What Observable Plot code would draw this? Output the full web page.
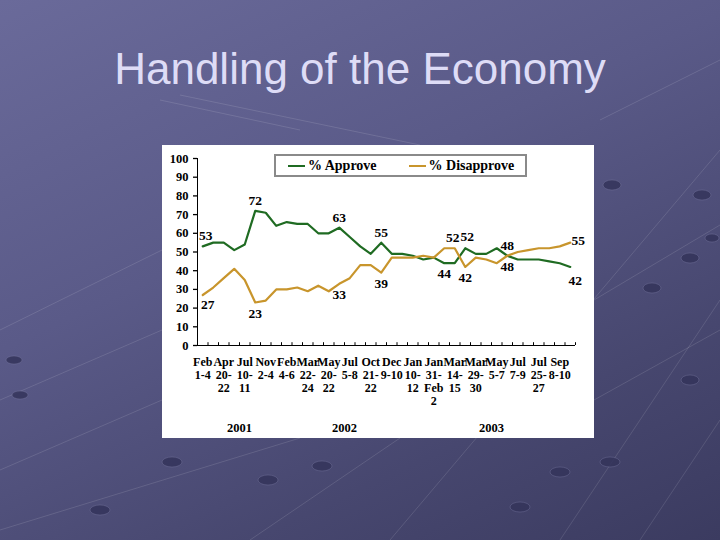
<!DOCTYPE html>
<html>
<head>
<meta charset="utf-8">
<script src="https://cdn.jsdelivr.net/npm/d3@7"></script>
<script src="https://cdn.jsdelivr.net/npm/@observablehq/plot@0.6"></script>
<style>
  html, body { margin: 0; padding: 0; }
  body {
    width: 720px; height: 540px; position: relative; overflow: hidden;
    background: linear-gradient(155deg, #6a6a9a 0%, #5a5a88 40%, #47476f 75%, #3b3b60 100%);
  }
  #deco { position: absolute; left: 0; top: 0; }
  #title {
    position: absolute; left: 0; top: 47px; width: 720px; text-align: center;
    font-family: "Liberation Sans", Arial, sans-serif; font-size: 44px; line-height: 1;
    color: #dedcf6;
  }
  #panel {
    position: absolute; left: 162px; top: 145px; width: 432px; height: 293px;
    background: #ffffff;
  }
  #legend {
    position: absolute; left: 112px; top: 9px; width: 249px; height: 19px;
    border: 2px solid #8a8a8a; background: #fff;
    font-family: "Liberation Serif", "Times New Roman", serif; font-weight: bold; font-size: 14px;
    display: flex; align-items: center; color: #000; white-space: nowrap;
  }
  .item { display: flex; align-items: center; }
  .sw { display: inline-block; width: 17px; height: 2px; margin-right: 3px; }
</style>
</head>
<body>
<svg id="deco" width="720" height="540">
  <g stroke="#ffffff" stroke-opacity="0.12" stroke-width="1" fill="none">
    <path d="M560 540 L720 300"/>
    <path d="M640 540 L720 420"/>
    <path d="M390 540 L720 150"/>
    <path d="M600 120 L720 60"/>
    <path d="M594 300 L720 225"/>
    <path d="M594 400 L720 330"/>
    <path d="M0 330 L162 250"/>
    <path d="M0 400 L162 330"/>
    <path d="M0 470 L162 400"/>
    <path d="M0 530 L300 438"/>
    <path d="M250 540 L400 438"/>
    <path d="M160 100 L300 130"/>
    <path d="M180 95 L420 145"/>
  </g>
  <g fill="#34345a" fill-opacity="0.85" stroke="#8080a8" stroke-opacity="0.35">
    <ellipse cx="702" cy="195" rx="9" ry="5"/>
    <ellipse cx="690" cy="258" rx="9" ry="5"/>
    <ellipse cx="652" cy="288" rx="9" ry="5"/>
    <ellipse cx="712" cy="238" rx="7" ry="4"/>
    <ellipse cx="610" cy="462" rx="10" ry="5"/>
    <ellipse cx="560" cy="472" rx="10" ry="5"/>
    <ellipse cx="520" cy="507" rx="10" ry="5"/>
    <ellipse cx="322" cy="466" rx="10" ry="5"/>
    <ellipse cx="268" cy="480" rx="10" ry="5"/>
    <ellipse cx="172" cy="462" rx="10" ry="5"/>
    <ellipse cx="100" cy="510" rx="10" ry="5"/>
    <ellipse cx="20" cy="395" rx="8" ry="4"/>
    <ellipse cx="14" cy="360" rx="8" ry="4"/>
    <ellipse cx="690" cy="380" rx="9" ry="5"/>
    <ellipse cx="612" cy="185" rx="9" ry="5"/>
  </g>
</svg>
<div id="title">Handling of the Economy</div>
<div id="panel">
  <div id="chart"></div>
  <div id="legend"></div>
</div>
<script>
// ---- data ----
const seriesNames = ["% Approve", "% Disapprove"];
const seriesColors = ["#1f6b22", "#c8952c"];
const approve =    [53,55,55,51,54,72,71,64,66,65,65,60,60,63,58,53,49,55,49,49,48,46,47,44,44,52,49,49,52,48,46,46,46,45,44,42];
const disapprove = [27,31,36,41,35,23,24,30,30,31,29,32,29,33,36,43,43,39,47,47,47,48,47,52,52,42,47,46,44,48,50,51,52,52,53,55];
const tickLabels = ["Feb\n1-4","Apr\n20-\n22","Jul\n10-\n11","Nov\n2-4","Feb\n4-6","Mar\n22-\n24","May\n20-\n22","Jul\n5-8","Oct\n21-\n22","Dec\n9-10","Jan\n10-\n12","Jan\n31-\nFeb\n2","Mar\n14-\n15","Mar\n29-\n30","May\n5-7","Jul\n7-9","Jul\n25-\n27","Sep\n8-10"];
const years = ["2001", "2002", "2003"];
const yearFirstPoll = [0, 8, 20];   // index of first poll of each year
const yTicks = [0,10,20,30,40,50,60,70,80,90,100];

// labelled points
const approveAbove = [5, 13, 17, 29];
const approveAboveRight = [25];
const approveBelow = [23];
const disapproveBelow = [5, 13, 17, 25, 29];
const disapproveAboveLeft = [24];

const n = approve.length;
const rows = [
  ...approve.map((v, i) => ({i, v, s: seriesNames[0]})),
  ...disapprove.map((v, i) => ({i, v, s: seriesNames[1]}))
];
const tickIdx = tickLabels.map((_, j) => j * 2);
const yearCenters = years.map((_, k) => ((yearFirstPoll[k]) + ((k + 1 < years.length ? yearFirstPoll[k + 1] : n) - 1)) / 2);

const font = "'Liberation Serif', 'Times New Roman', serif";
const txt = {fontSize: 13.5, fontWeight: "bold", fill: "#000"};

const chart = Plot.plot({
  width: 432, height: 293,
  marginLeft: 35, marginRight: 19, marginTop: 13, marginBottom: 93,
  style: {fontFamily: font, fontWeight: "bold", fontSize: "12.5px", color: "#000", background: "transparent", overflow: "visible"},
  x: {type: "linear", domain: [-0.5, n - 0.5], axis: null},
  y: {domain: [0, 100], axis: null},
  color: {domain: seriesNames, range: seriesColors},
  marks: [
    // y axis
    Plot.ruleX([-0.5], {y1: 0, y2: 100, stroke: "#000", strokeWidth: 1}),
    Plot.axisY(yTicks, {anchor: "left", tickSize: 4, tickPadding: 5, label: null, fontSize: 12.5, fontWeight: "bold", strokeWidth: 1.3, tickFormat: d => String(d)}),
    // x axis
    Plot.ruleY([0], {stroke: "#000", strokeWidth: 1}),
    Plot.ruleX(d3.range(n + 1).map(i => i - 0.5), {y1: 0, y2: 1.5, stroke: "#000"}),
    Plot.text(tickLabels, {x: (d, j) => tickIdx[j], text: d => d, frameAnchor: "bottom", dy: 11, lineAnchor: "top", lineHeight: 1.08, fontSize: 12, fontWeight: "bold", fill: "#000", ariaLabel: "x-tick-labels"}),
    Plot.text(years, {x: (d, k) => yearCenters[k], text: d => d, frameAnchor: "bottom", dy: 86, fontSize: 12.5, fontWeight: "bold", fill: "#000"}),
    // lines
    Plot.line(rows, {x: "i", y: "v", z: "s", stroke: "s", strokeWidth: 2.2}),
    // data labels
    Plot.text(approveAbove, {x: i => i, y: i => approve[i], text: i => String(approve[i]), dy: -10, ...txt}),
    Plot.text(approveAboveRight, {x: i => i, y: i => approve[i], text: i => String(approve[i]), dx: 2, dy: -12, ...txt}),
    Plot.text(approveBelow, {x: i => i, y: i => approve[i], text: i => String(approve[i]), dy: 10, ...txt}),
    Plot.text(disapproveBelow, {x: i => i, y: i => disapprove[i], text: i => String(disapprove[i]), dy: 11, ...txt}),
    Plot.text(disapproveAboveLeft, {x: i => i, y: i => disapprove[i], text: i => String(disapprove[i]), dx: -2, dy: -11, ...txt}),
    Plot.text([0], {x: i => i, y: i => approve[i], text: i => String(approve[i]), dx: 3, dy: -11, ...txt}),
    Plot.text([0], {x: i => i, y: i => disapprove[i], text: i => String(disapprove[i]), dx: 5, dy: 10, ...txt}),
    Plot.text([n - 1], {x: i => i, y: i => disapprove[i], text: i => String(disapprove[i]), dx: 8, dy: -2, ...txt}),
    Plot.text([n - 1], {x: i => i, y: i => approve[i], text: i => String(approve[i]), dx: 5, dy: 14, ...txt})
  ]
});
const xLabels = chart.querySelector('g[aria-label="x-tick-labels"]');
if (xLabels) xLabels.style.letterSpacing = "-0.7px";
document.getElementById("chart").appendChild(chart);

// legend
const legend = document.getElementById("legend");
const offsets = [12, 32];
seriesNames.forEach((name, k) => {
  const item = document.createElement("span");
  item.className = "item";
  item.style.marginLeft = offsets[k] + "px";
  const sw = document.createElement("span");
  sw.className = "sw";
  sw.style.background = seriesColors[k];
  item.appendChild(sw);
  item.appendChild(document.createTextNode(name));
  legend.appendChild(item);
});
</script>
</body>
</html>
